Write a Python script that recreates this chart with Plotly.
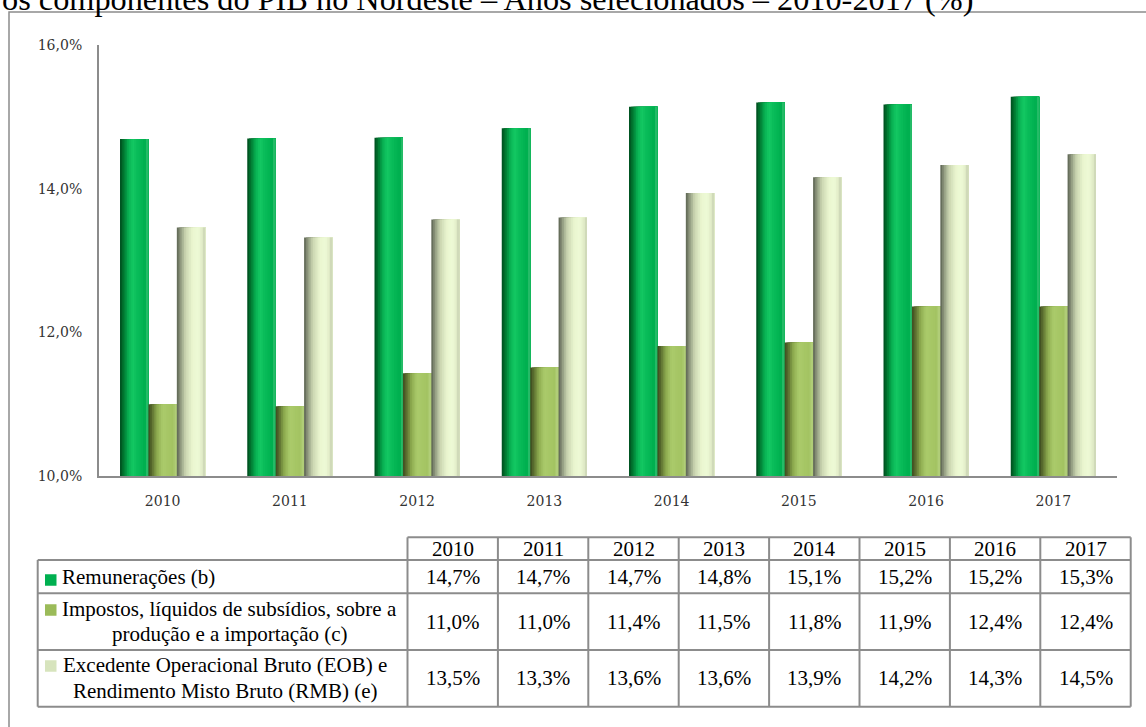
import plotly.graph_objects as go

# ---------------- data ----------------
years = ["2010", "2011", "2012", "2013", "2014", "2015", "2016", "2017"]
remuneracoes = [14.69, 14.70, 14.71, 14.84, 15.14, 15.20, 15.17, 15.28]
impostos = [11.00, 10.97, 11.43, 11.51, 11.81, 11.86, 12.36, 12.36]
excedente = [13.46, 13.32, 13.57, 13.60, 13.94, 14.16, 14.33, 14.48]

label_remuneracoes = ["Remunerações (b)"]
label_impostos = ["Impostos, líquidos de subsídios, sobre a", "produção e a importação (c)"]
label_excedente = ["Excedente Operacional Bruto (EOB) e", "Rendimento Misto Bruto (RMB) (e)"]

y_ticks = [10, 12, 14, 16]
y_tick_text = ["10,0%", "12,0%", "14,0%", "16,0%"]

title_text = "os componentes do PIB no Nordeste – Anos selecionados – 2010-2017 (%)"

# ---------------- styles ----------------
legend_colors = ["#00b050", "#9bbb59", "#d7e4bd"]
green_stops = [(0.0, "#004a1e"), (0.12, "#00752f"), (0.3, "#08b253"), (0.45, "#14c863"),
               (0.6, "#0abd5a"), (0.85, "#00b050"), (0.94, "#00b050"), (1.0, "#4cc77f")]
olive_stops = [(0.0, "#3b481f"), (0.12, "#5a6d2e"), (0.3, "#8dab4f"), (0.5, "#abcb6b"),
               (0.85, "#a3c362"), (1.0, "#b4d07c")]
light_stops = [(0.0, "#586050"), (0.12, "#8c957b"), (0.3, "#c9d4b0"), (0.55, "#eaf6cf"),
               (0.75, "#eefad6"), (0.92, "#dde8c3"), (1.0, "#c7d1b3")]

SERIF_AXIS = "DejaVu Serif"
SERIF_TXT = "Liberation Serif"
GRID = "#8c8c8c"

FIG_W, FIG_H = 1146, 727
L, R, T, B = 99, 1117, 45, 476
W, H = R - L, B - T


def px(x):
    return (x - L) / W


def py(y):
    return (B - y) / H


def hex2rgb(h):
    h = h.lstrip("#")
    return tuple(int(h[i:i + 2], 16) for i in (0, 2, 4))


def interp(stops, t):
    for (t0, c0), (t1, c1) in zip(stops[:-1], stops[1:]):
        if t0 <= t <= t1:
            f = (t - t0) / (t1 - t0) if t1 > t0 else 0
            a, b = hex2rgb(c0), hex2rgb(c1)
            return "rgb(%d,%d,%d)" % tuple(round(a[i] + (b[i] - a[i]) * f) for i in range(3))
    return stops[-1][1]


fig = go.Figure()

bw = 0.2233
offsets = [-1.5 * bw, -0.5 * bw, 0.5 * bw]
series = [remuneracoes, impostos, excedente]
stops_list = [green_stops, olive_stops, light_stops]
N = 16
for vals, off, stops in zip(series, offsets, stops_list):
    for k in range(N):
        t = (k + 0.5) / N
        fig.add_trace(go.Bar(
            x=years, y=vals,
            offset=off + k * bw / N, width=bw - k * bw / N,
            marker=dict(color=interp(stops, t), line=dict(width=0)),
            showlegend=False, hoverinfo="skip",
        ))

fig.update_layout(
    width=FIG_W, height=FIG_H,
    margin=dict(l=L, r=FIG_W - R, t=T, b=FIG_H - B, pad=0),
    paper_bgcolor="white", plot_bgcolor="white",
    barmode="overlay",
    showlegend=False,
    xaxis=dict(
        type="category", showline=True, linecolor=GRID, linewidth=2,
        showgrid=False, ticks="", tickfont=dict(family=SERIF_AXIS, size=14, color="#333333"),
        ticklabelstandoff=11, zeroline=False,
    ),
    yaxis=dict(
        range=[10, 16], tickvals=y_ticks, ticktext=y_tick_text,
        showline=True, linecolor=GRID, linewidth=2, showgrid=False, zeroline=False,
        ticks="", tickfont=dict(family=SERIF_AXIS, size=14, color="#333333"),
        ticklabelstandoff=12,
    ),
)

shapes = []
annotations = []

# outer frame
shapes.append(dict(type="rect", xref="paper", yref="paper",
                   x0=px(9), y0=py(12), x1=px(1170), y1=py(760),
                   line=dict(color=GRID, width=1.5), fillcolor="rgba(0,0,0,0)"))

# title (cut at top)
annotations.append(dict(text=title_text, xref="paper", yref="paper",
                        x=px(0), y=py(-1.5), xanchor="left", yanchor="middle",
                        showarrow=False, font=dict(family=SERIF_TXT, size=32.3, color="black")))

# ---------------- data table ----------------
lab_x0 = 37.7
col_x0 = 407.5
col_w = 90.4
col_edges = [col_x0 + i * col_w for i in range(len(years) + 1)]
tab_x1 = col_edges[-1]
row_edges = [537.3, 560.0, 593.3, 650.0, 706.7]

line_style = dict(color=GRID, width=2)
# horizontal lines
shapes.append(dict(type="line", xref="paper", yref="paper", x0=px(col_x0), x1=px(tab_x1),
                   y0=py(row_edges[0]), y1=py(row_edges[0]), line=line_style))
for yy in row_edges[1:]:
    shapes.append(dict(type="line", xref="paper", yref="paper", x0=px(lab_x0), x1=px(tab_x1),
                       y0=py(yy), y1=py(yy), line=line_style))
# vertical lines
shapes.append(dict(type="line", xref="paper", yref="paper", x0=px(lab_x0), x1=px(lab_x0),
                   y0=py(row_edges[1]), y1=py(row_edges[-1]), line=line_style))
for xx in col_edges:
    shapes.append(dict(type="line", xref="paper", yref="paper", x0=px(xx), x1=px(xx),
                       y0=py(row_edges[0]), y1=py(row_edges[-1]), line=line_style))

txt_font = dict(family=SERIF_TXT, size=21, color="black")

# header years
for i, yr in enumerate(years):
    annotations.append(dict(text=yr, xref="paper", yref="paper",
                            x=px(col_x0 + (i + 0.5) * col_w), y=py((row_edges[0] + row_edges[1]) / 2),
                            xanchor="center", yanchor="middle", showarrow=False, font=txt_font))

# values
for r, vals in enumerate(series):
    yc = (row_edges[r + 1] + row_edges[r + 2]) / 2
    for i, v in enumerate(vals):
        annotations.append(dict(text=("%.1f" % v).replace(".", ",") + "%", xref="paper", yref="paper",
                                x=px(col_x0 + (i + 0.5) * col_w), y=py(yc),
                                xanchor="center", yanchor="middle", showarrow=False, font=txt_font))

# row labels + legend keys
label_rows = [label_remuneracoes, label_impostos, label_excedente]
label_line_y = [[577.0], [608.5, 633.5], [665.0, 690.5]]
label_centers = [None, 229.5, 225.0]
key_y = [580.0, 610.0, 666.0]
for r, (lines, ys, cx) in enumerate(zip(label_rows, label_line_y, label_centers)):
    for line, yy in zip(lines, ys):
        if cx is None:
            annotations.append(dict(text=line, xref="paper", yref="paper", x=px(60), y=py(yy),
                                    xanchor="left", yanchor="middle", showarrow=False, font=txt_font))
        else:
            annotations.append(dict(text=line, xref="paper", yref="paper", x=px(cx), y=py(yy),
                                    xanchor="center", yanchor="middle", showarrow=False, font=txt_font))
    shapes.append(dict(type="rect", xref="paper", yref="paper",
                       x0=px(45), x1=px(56.5), y0=py(key_y[r] - 5.75), y1=py(key_y[r] + 5.75),
                       line=dict(width=0), fillcolor=legend_colors[r]))

fig.update_layout(shapes=shapes, annotations=annotations)

fig.write_html("out.html")
